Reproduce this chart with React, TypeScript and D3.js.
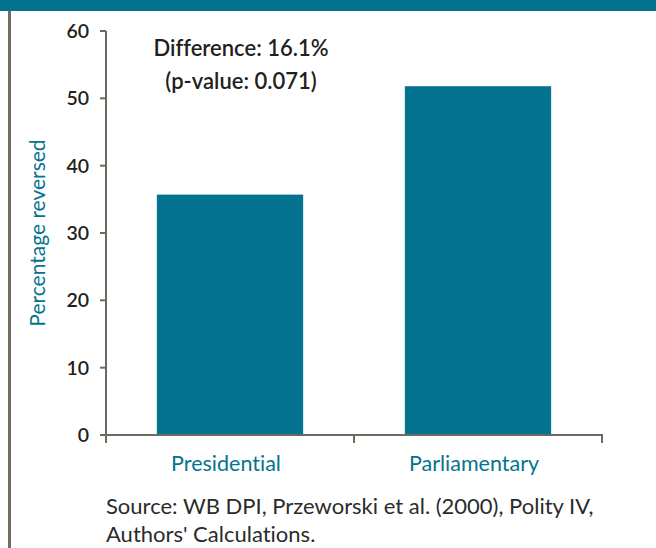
import React from "react";
import * as d3 from "d3";

const categories = ["Presidential", "Parliamentary"];
const values = [35.7, 51.8];
const yTicks = [0, 10, 20, 30, 40, 50, 60];
const annotationLines = ["Difference: 16.1%", "(p-value: 0.071)"];
const sourceLines = ["Source: WB DPI, Przeworski et al. (2000), Polity IV,", "Authors' Calculations."];
const yLabel = "Percentage reversed";

const W = 656, H = 548;
const TEAL = "#047390";
const AXIS = "#6b6a5f";
const FONT = "Lato, 'Open Sans', sans-serif";

export default function App() {
  const x = d3.scaleBand<string>().domain(categories).range([106, 602]).paddingInner(0.41).paddingOuter(0.205);
  const y = d3.scaleLinear().domain([0, 60]).range([435, 31]);
  const step = x.step();
  const boundaries = [106, 106 + step, 106 + 2 * step];
  return (
    <svg width={W} height={H} style={{ position: "absolute", left: 0, top: 0, background: "#fff", fontVariantLigatures: "none" }} fontFamily={FONT}>
      <rect x={0} y={0} width={W} height={11} fill={TEAL} />
      <rect x={8} y={11} width={3} height={H - 11} fill="#756c5d" />
      {categories.map((c, i) => (
        <rect key={c} x={x(c)} y={y(values[i])} width={x.bandwidth()} height={y(0) - y(values[i])} fill={TEAL} />
      ))}
      {/* y axis */}
      <line x1={106} x2={106} y1={y(60)} y2={443} stroke={AXIS} strokeWidth={2} />
      {yTicks.map((t) => (
        <g key={t}>
          <line x1={100} x2={106} y1={y(t)} y2={y(t)} stroke={AXIS} strokeWidth={2} />
          <text x={89} y={y(t)} dy="0.36em" textAnchor="end" fontSize={19.5} fontWeight={600} fill="#231f20">{t}</text>
        </g>
      ))}
      {/* x axis */}
      <line x1={100} x2={603} y1={y(0)} y2={y(0)} stroke={AXIS} strokeWidth={2} />
      {boundaries.map((b, i) => (
        <line key={i} x1={b} x2={b} y1={y(0)} y2={443} stroke={AXIS} strokeWidth={2} />
      ))}
      {categories.map((c) => (
        <text key={c} x={(x(c) as number) + x.bandwidth() / 2 - 4} y={471} textAnchor="middle" fontSize={21.5} fill={TEAL}>{c}</text>
      ))}
      <text transform="translate(45,233) rotate(-90)" textAnchor="middle" fontSize={21} fill={TEAL}>{yLabel}</text>
      {annotationLines.map((l, i) => (
        <text key={i} x={241} y={56 + i * 33} textAnchor="middle" fontSize={22} fontWeight={600} fill="#231f20">{l}</text>
      ))}
      {sourceLines.map((l, i) => (
        <text key={i} x={106} y={514 + i * 28} fontSize={22} fill="#2b2b2b">{l}</text>
      ))}
    </svg>
  );
}
